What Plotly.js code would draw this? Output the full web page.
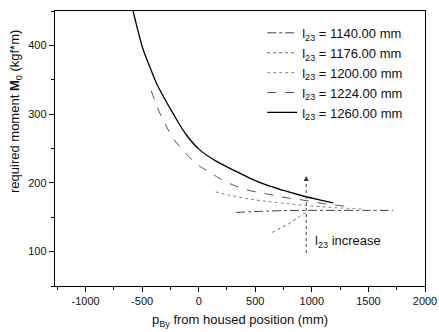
<!DOCTYPE html>
<html>
<head>
<meta charset="utf-8">
<script src="https://cdn.plot.ly/plotly-3.0.1.min.js"></script>
<style>html,body{margin:0;padding:0;background:#fff;}#chart{width:439px;height:332px;}</style>
</head>
<body>
<div id="chart"></div>
<script>
// Data
const names = ["l<sub>23</sub> = 1140.00 mm","l<sub>23</sub> = 1176.00 mm","l<sub>23</sub> = 1200.00 mm","l<sub>23</sub> = 1224.00 mm","l<sub>23</sub> = 1260.00 mm"];
const x1140 = [330, 600, 900, 1200, 1500, 1720];
const y1140 = [157, 159, 160, 160, 160, 160];
const x1176 = [650, 720, 800, 880, 950];
const y1176 = [128, 134, 141, 150, 157];
const x1200 = [150, 260, 510, 715, 950, 1200, 1450];
const y1200 = [187, 182.5, 175, 171, 167, 164, 162];
const x1224 = [-420, -350, -300, -227, -132, -6, 112, 179, 303, 421, 600, 750, 920, 1100, 1300];
const y1224 = [334, 304, 287, 265, 246, 226, 214, 207, 197, 190, 184, 179, 175, 170, 166];
const x1260 = [-580, -530, -491, -430, -373, -300, -227, -110, 9, 150, 303, 450, 597, 750, 900, 1050, 1190];
const y1260 = [450, 417, 394, 368, 345, 322, 301, 270, 248, 232, 219, 207, 197, 189, 182, 176, 171];
const xTickVals = [-1000, -500, 0, 500, 1000, 1500, 2000];
const xTickText = ["-1000", "-500", "0", "500", "1000", "1500", "2000"];
const yTickVals = [100, 200, 300, 400];
const arrowX = 950, arrowY0 = 98, arrowY1 = 210;

const font = {family: "Liberation Sans, Arial, sans-serif", color: "#111"};
const traces = [
  {x: x1140, y: y1140, name: names[0], mode: "lines", line: {color: "#444", width: 1, dash: "dashdot", shape: "spline"}},
  {x: x1176, y: y1176, name: names[1], mode: "lines", line: {color: "#666", width: 1, dash: "dot", shape: "spline"}},
  {x: x1200, y: y1200, name: names[2], mode: "lines", line: {color: "#888", width: 1, dash: "dot", shape: "spline"}},
  {x: x1224, y: y1224, name: names[3], mode: "lines", line: {color: "#555", width: 1, dash: "dash", shape: "spline"}},
  {x: x1260, y: y1260, name: names[4], mode: "lines", line: {color: "#000", width: 1.3, shape: "spline"}}
];
const layout = {
  width: 439, height: 332,
  margin: {l: 55, r: 14, t: 11, b: 46},
  paper_bgcolor: "#fff", plot_bgcolor: "#fff",
  font: Object.assign({size: 11}, font),
  showlegend: true,
  legend: {x: 0.56, y: 0.975, xanchor: "left", yanchor: "top", bgcolor: "rgba(0,0,0,0)",
           font: Object.assign({size: 13}, font), tracegroupgap: 0},
  xaxis: {
    range: [-1270, 2000], tickvals: xTickVals, ticktext: xTickText,
    ticks: "outside", ticklen: 5, tickwidth: 1, tickcolor: "#000",
    minor: {dtick: 250, ticks: "outside", ticklen: 3, tickcolor: "#000"},
    showline: true, linecolor: "#000", linewidth: 1.2, mirror: true,
    showgrid: false, zeroline: false,
    tickfont: Object.assign({size: 11}, font),
    title: {text: "p<sub>By</sub> from housed position (mm)", font: Object.assign({size: 13}, font), standoff: 8}
  },
  yaxis: {
    range: [50, 450], tickvals: yTickVals,
    ticks: "outside", ticklen: 5, tickwidth: 1, tickcolor: "#000",
    minor: {dtick: 50, ticks: "outside", ticklen: 3, tickcolor: "#000"},
    showline: true, linecolor: "#000", linewidth: 1.2, mirror: true,
    showgrid: false, zeroline: false,
    tickfont: Object.assign({size: 11}, font)
  },
  shapes: [
    {type: "line", xref: "x", yref: "y", x0: arrowX, x1: arrowX, y0: arrowY0, y1: arrowY1 - 4,
     line: {color: "#444", width: 1, dash: "dot"}}
  ],
  annotations: [
    {x: arrowX, y: arrowY1, ax: arrowX, ay: arrowY1 - 8, xref: "x", yref: "y", axref: "x", ayref: "y",
     showarrow: true, arrowhead: 2, arrowsize: 1, arrowwidth: 1, arrowcolor: "#333", text: ""},
    {x: 1010, y: 115, xref: "x", yref: "y", xanchor: "left", yanchor: "middle", showarrow: false,
     text: "l<sub>23</sub> increase", font: Object.assign({size: 13}, font)},
    {x: (15 - 55) / (439 - 55 - 14), y: (332 - 46 - 112) / (332 - 46 - 11),
     xref: "paper", yref: "paper", showarrow: false, textangle: -90,
     xanchor: "center", yanchor: "middle",
     text: "required moment <b>M</b><sub>0</sub> (kgf*m)", font: Object.assign({size: 13}, font)}
  ]
};
Plotly.newPlot("chart", traces, layout, {displayModeBar: false, staticPlot: true});
</script>
</body>
</html>
